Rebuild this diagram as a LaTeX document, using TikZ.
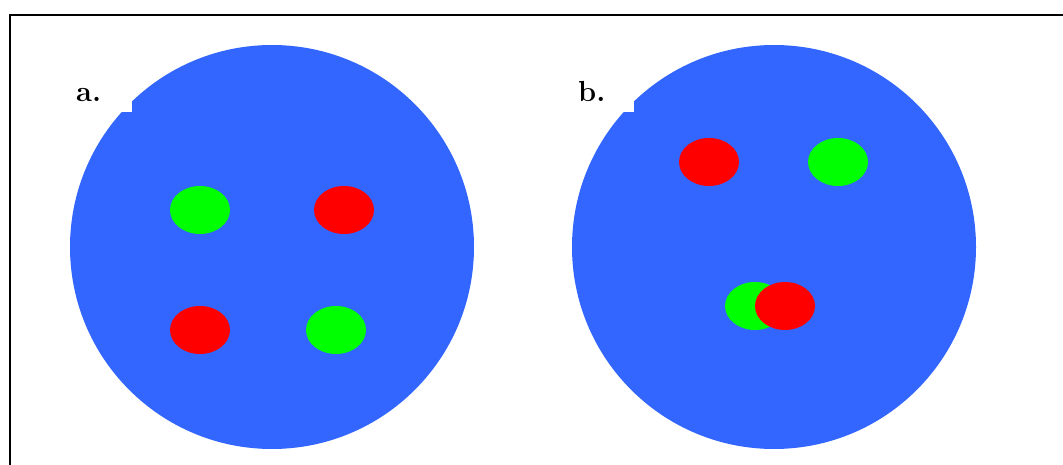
\documentclass[tikz,border=0pt]{standalone}
\definecolor{plate}{HTML}{3366FF}
\definecolor{dotG}{HTML}{00FF00}
\definecolor{dotR}{HTML}{FF0000}
\begin{document}
\begin{tikzpicture}[x=1pt,y=-1pt]
    \useasboundingbox (0,0) rectangle (1063,465);
    \draw[line width=2pt] (10,15) rectangle (1080,480);
    \foreach \cx/\name in {272/a, 774/b}{
      \fill[plate] (\cx,247) circle[radius=202pt];
      \fill[white] (\cx-230,20) rectangle (\cx-140,112);
      \node[anchor=base west,inner sep=0,font=\fontsize{29}{31}\selectfont\bfseries] (lbl\name) at (\cx-196,102){\name.};}
    \foreach \x/\y/\c in {%
      200/210/dotG, 344/210/dotR, 200/330/dotR, 336/330/dotG,
      709/162/dotR, 838/162/dotG, 755/306/dotG, 785/306/dotR}{
      \fill[\c] (\x,\y) ellipse[x radius=30pt,y radius=24pt];}
  \end{tikzpicture}
\end{document}
